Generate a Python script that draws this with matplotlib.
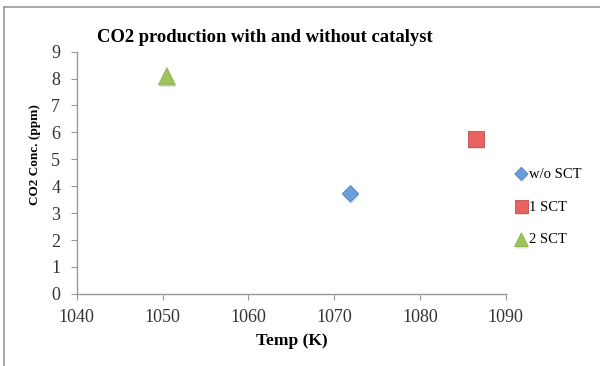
import matplotlib
matplotlib.use("Agg")
from matplotlib import pyplot as plt
from matplotlib.lines import Line2D
import matplotlib.patheffects as pe

# dados das medidas
temp_wo = [1071.9]
conc_wo = [3.72]
temp_1 = [1086.5]
conc_1 = [5.75]
temp_2 = [1050.5]
conc_2 = [8.08]
series = ["w/o SCT", "1 SCT", "2 SCT"]

plt.rcParams['font.family'] = ['Liberation Serif', 'DejaVu Serif']

fig = plt.figure(figsize=(6, 3.66), dpi=100)
ax = fig.add_axes([0.128, 0.197, 0.715, 0.662])

sombra = [pe.SimplePatchShadow(offset=(0.5, -1.5), alpha=0.15), pe.Normal()]
ax.scatter(temp_wo, conc_wo, marker='D', s=70, color='#6a9ddc', edgecolors='#4f81bd',
           linewidths=0.6, label=series[0], path_effects=sombra, zorder=3)
ax.scatter(temp_1, conc_1, marker='s', s=135, color='#e8625f', edgecolors='#c0504d',
           linewidths=0.6, label=series[1], path_effects=sombra, zorder=3)
ax.scatter(temp_2, conc_2, marker='^', s=150, color='#9bc55a', edgecolors='#8aae4c',
           linewidths=0.6, label=series[2], path_effects=sombra, zorder=3)

ax.set_xlim(1040, 1090)
ax.set_ylim(0, 9)
ax.set_xticks(range(1040, 1091, 10))
ax.set_yticks(range(0, 10))

for lado in ['top', 'right']:
    ax.spines[lado].set_visible(False)
for lado in ['left', 'bottom']:
    ax.spines[lado].set_color('#999999')
    ax.spines[lado].set_linewidth(1.0)
ax.tick_params(colors='#999999', labelcolor='#333333', length=4, labelsize=13, direction='out')
ax.tick_params(axis='x', pad=7)
ax.tick_params(axis='y', pad=8)

fig.text(265 / 600, 1 - 37 / 366, "CO2 production with and without catalyst",
         ha='center', va='center', fontsize=13.4, fontweight='bold')
fig.text(292 / 600, 1 - 341 / 366, "Temp (K)", ha='center', va='center',
         fontsize=12.5, fontweight='bold')
fig.text(35 / 600, 1 - 155 / 366, "CO2 Conc. (ppm)", ha='center', va='center',
         rotation=90, fontsize=9.5, fontweight='bold')

ax.legend(loc='center left', bbox_to_anchor=(509 / 600, 1 - 207 / 366),
          bbox_transform=fig.transFigure, frameon=False, fontsize=10.5,
          handletextpad=0.05, labelspacing=1.35, borderaxespad=0, handlelength=0.9,
          markerscale=0.8)

# moldura parcial da imagem
fig.add_artist(Line2D([4 / 600, 4 / 600], [0, 1 - 7 / 366], color='#999999', lw=1.2))
fig.add_artist(Line2D([4 / 600, 1], [1 - 7 / 366, 1 - 7 / 366], color='#999999', lw=1.2))

fig.savefig("out.png", dpi=100)
